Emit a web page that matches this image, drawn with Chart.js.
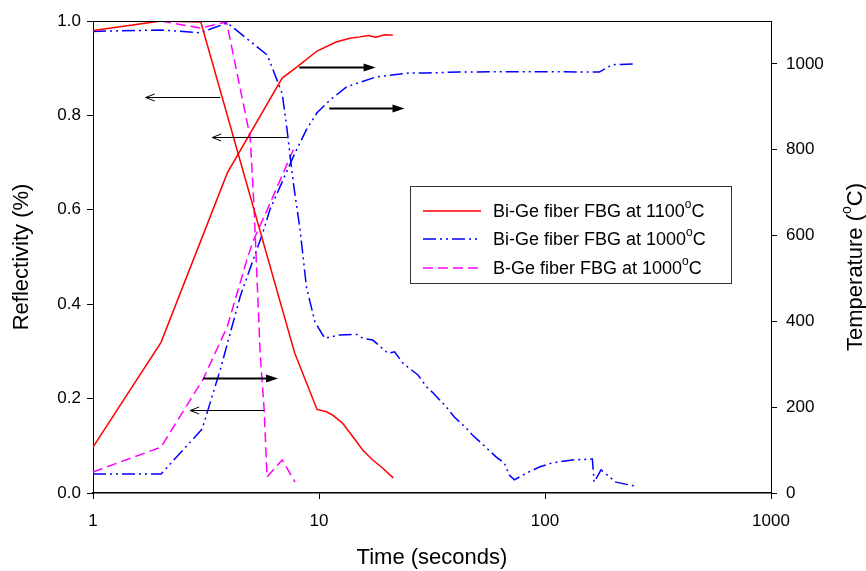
<!DOCTYPE html>
<html>
<head>
<meta charset="utf-8">
<script src="https://cdn.jsdelivr.net/npm/chart.js@4.4.1/dist/chart.umd.min.js"></script>
<style>
    body { margin: 0; background: #fff; }
    #wrap { width: 866px; height: 571px; }
</style>
</head>
<body>
<div id="wrap"><canvas id="chart-fbg" width="866" height="571"></canvas></div>
<script>
// Bi-Ge fiber FBG at 1100 C
const tRedRefl = [1, 2, 3, 7.8, 9.8, 10.8, 11.5, 12.7, 14.7, 15.6, 17.3, 19.1, 21.3];
const redRefl = [0.98, 1.0, 0.998, 0.297, 0.177, 0.172, 0.165, 0.148, 0.108, 0.091, 0.07, 0.053, 0.032];
const tRedTemp = [1, 2, 3.93, 6.87, 8.0, 9.8, 11.9, 13.7, 15.2, 16.5, 17.9, 19.5, 21.2];
const redTemp = [107, 351, 746, 967, 993, 1030, 1051, 1060, 1063, 1066, 1062, 1068, 1067];

// Bi-Ge fiber FBG at 1000 C
const tBlueRefl = [1, 2, 2.98, 3.93, 5.9, 6.87, 7.2, 7.7, 8.25, 8.8, 9.6, 10.6, 12.4, 14.7, 15.6, 17.3, 20.2, 21.6, 23.5, 27.4, 29.9, 32, 36.6, 39.7, 44.7, 47.7, 52.2, 60.9, 66, 69.5, 73.2, 82.6, 94.4, 108, 132, 162, 165, 177, 206, 248];
const blueRefl = [0.978, 0.981, 0.975, 0.996, 0.928, 0.847, 0.775, 0.657, 0.557, 0.436, 0.362, 0.328, 0.335, 0.336, 0.328, 0.324, 0.296, 0.299, 0.275, 0.25, 0.225, 0.212, 0.182, 0.161, 0.138, 0.123, 0.106, 0.076, 0.064, 0.038, 0.028, 0.042, 0.055, 0.064, 0.07, 0.072, 0.023, 0.049, 0.023, 0.015];
const tBlueTemp = [1, 2, 3.04, 3.66, 4.48, 5.66, 6.06, 7.7, 8.8, 9.8, 11.2, 13.3, 18, 25.3, 30, 41.8, 80, 174, 198, 247];
const blueTemp = [44, 44, 149, 288, 458, 609, 660, 784, 847, 886, 916, 947, 970, 979, 979, 981, 982, 981, 998, 1000];

// B-Ge fiber FBG at 1000 C
const tMagRefl = [2, 2.98, 3.9, 4.96, 5.16, 5.49, 5.72, 5.89, 6.87, 7.84];
const magRefl = [1.0, 0.985, 0.998, 0.754, 0.606, 0.297, 0.176, 0.034, 0.07, 0.023];
const tMagTemp = [1, 2, 3.07, 3.93, 4.8, 5.1, 5.9, 7.7];
const magTemp = [49, 107, 265, 388, 544, 586, 660, 800];

// Ticks
const timeTicks = [1, 10, 100, 1000];
const reflTicks = [0, 0.2, 0.4, 0.6, 0.8, 1.0];
const tempTicks = [0, 200, 400, 600, 800, 1000];

const legendLabels = ['Bi-Ge fiber FBG at 1100', 'Bi-Ge fiber FBG at 1000', 'B-Ge fiber FBG at 1000'];

// arrows: [x from, x to, reflectivity y]
const arrows = [
    [3.66, 1.71, 0.838],
    [7.23, 3.37, 0.754],
    [8.18, 17.8, 0.903],
    [11.1, 23.9, 0.816],
    [3.07, 6.59, 0.244],
    [5.71, 2.69, 0.176],
];

const FONT = '"Liberation Sans", Arial, sans-serif';
const styles = [
    { color: '#ff0000', dash: [] },
    { color: '#0000ff', dash: [13, 4, 2, 4, 2, 4] },
    { color: '#ff00ff', dash: [10, 5] },
];

function pts(xs, ys) {
    return xs.map((x, i) => ({ x: x, y: ys[i] }));
}

function ds(label, xs, ys, s, axis) {
    return {
        label: label,
        data: pts(xs, ys),
        yAxisID: axis,
        borderColor: s.color,
        borderDash: s.dash,
        borderWidth: 1.5,
        pointRadius: 0,
        tension: 0,
        fill: false,
    };
}

// dibujar texto con superindice "o"
function drawDegText(ctx, before, after, x, y, size, align) {
    ctx.font = size + 'px ' + FONT;
    const w1 = ctx.measureText(before).width;
    ctx.font = Math.round(size * 0.65) + 'px ' + FONT;
    const w2 = ctx.measureText('o').width;
    ctx.font = size + 'px ' + FONT;
    const w3 = ctx.measureText(after).width;
    let x0 = x;
    if (align === 'center') x0 = x - (w1 + w2 + w3) / 2;
    ctx.textAlign = 'left';
    ctx.textBaseline = 'middle';
    ctx.fillText(before, x0, y);
    ctx.font = Math.round(size * 0.65) + 'px ' + FONT;
    ctx.fillText('o', x0 + w1, y - size * 0.38);
    ctx.font = size + 'px ' + FONT;
    ctx.fillText(after, x0 + w1 + w2, y);
}

const extras = {
    id: 'extras',
    afterDatasetsDraw(chart) {
        const ctx = chart.ctx;
        const xs = chart.scales.x, ys = chart.scales.y;
        ctx.save();
        ctx.strokeStyle = '#000';
        ctx.fillStyle = '#000';
        arrows.forEach(a => {
            const x1 = xs.getPixelForValue(a[0]);
            const x2 = xs.getPixelForValue(a[1]);
            const y = Math.round(ys.getPixelForValue(a[2])) + 0.5;
            const dir = x2 > x1 ? 1 : -1;
            const bold = dir > 0;
            ctx.lineWidth = bold ? 2 : 1;
            ctx.setLineDash([]);
            ctx.beginPath();
            ctx.moveTo(x1, y);
            ctx.lineTo(x2 - dir * (bold ? 6 : 0), y);
            ctx.stroke();
            ctx.beginPath();
            if (bold) {
                ctx.moveTo(x2, y);
                ctx.lineTo(x2 - dir * 12, y - 4);
                ctx.lineTo(x2 - dir * 12, y + 4);
                ctx.closePath();
                ctx.fill();
            } else {
                ctx.moveTo(x2 + dir * -9, y - 3.5);
                ctx.lineTo(x2, y);
                ctx.lineTo(x2 + dir * -9, y + 3.5);
                ctx.stroke();
            }
        });
        ctx.restore();
    },
    afterDraw(chart) {
        const ctx = chart.ctx;
        const area = chart.chartArea;
        ctx.save();
        // marco superior
        ctx.strokeStyle = '#000';
        ctx.lineWidth = 1;
        ctx.beginPath();
        ctx.moveTo(area.left, area.top + 0.5);
        ctx.lineTo(area.right, area.top + 0.5);
        ctx.stroke();

        // leyenda
        const bx = 410, by = 186, bw = 321, bh = 97;
        ctx.fillStyle = '#fff';
        ctx.fillRect(bx, by, bw, bh);
        ctx.strokeStyle = '#333';
        ctx.strokeRect(bx + 0.5, by + 0.5, bw, bh);
        const rows = [211, 239, 268];
        styles.forEach((s, i) => {
            ctx.strokeStyle = s.color;
            ctx.lineWidth = 1.5;
            ctx.setLineDash(s.dash);
            ctx.beginPath();
            ctx.moveTo(423, rows[i]);
            ctx.lineTo(481, rows[i]);
            ctx.stroke();
            ctx.setLineDash([]);
            ctx.fillStyle = '#000';
            drawDegText(ctx, legendLabels[i], 'C', 493, rows[i] + 1, 18, 'left');
        });

        // titulo eje derecho
        ctx.save();
        ctx.translate(856, 267);
        ctx.rotate(-Math.PI / 2);
        ctx.fillStyle = '#000';
        drawDegText(ctx, 'Temperature (', 'C)', 0, 0, 22, 'center');
        ctx.restore();
        ctx.restore();
    }
};

const axisGrid = { drawOnChartArea: false, drawTicks: true, tickLength: 6, color: '#000' };
const tickFont = { family: FONT, size: 17 };

const chart = new Chart(document.getElementById('chart-fbg').getContext('2d'), {
    type: 'line',
    data: {
        datasets: [
            ds('Bi-Ge fiber FBG at 1100oC', tRedRefl, redRefl, styles[0], 'y'),
            ds('Bi-Ge fiber FBG at 1100oC temp', tRedTemp, redTemp, styles[0], 'y1'),
            ds('Bi-Ge fiber FBG at 1000oC', tBlueRefl, blueRefl, styles[1], 'y'),
            ds('Bi-Ge fiber FBG at 1000oC temp', tBlueTemp, blueTemp, styles[1], 'y1'),
            ds('B-Ge fiber FBG at 1000oC', tMagRefl, magRefl, styles[2], 'y'),
            ds('B-Ge fiber FBG at 1000oC temp', tMagTemp, magTemp, styles[2], 'y1'),
        ]
    },
    options: {
        responsive: false,
        animation: false,
        devicePixelRatio: 1,
        layout: { padding: { top: 21, left: 0, right: 0, bottom: 0 } },
        plugins: {
            legend: { display: false },
            tooltip: { enabled: false },
        },
        scales: {
            x: {
                type: 'logarithmic',
                position: 'bottom',
                min: 1,
                max: 1000,
                afterBuildTicks: (s) => { s.ticks = timeTicks.map(v => ({ value: v })); },
                afterFit: (s) => { s.height = 78; },
                ticks: {
                    color: '#000',
                    font: tickFont,
                    padding: 12,
                    maxRotation: 0,
                    autoSkip: false,
                    callback: (v) => String(v),
                },
                grid: axisGrid,
                border: { color: '#000', width: 1.5 },
                title: {
                    display: true,
                    text: 'Time (seconds)',
                    color: '#000',
                    font: { family: FONT, size: 22 },
                    padding: { top: 0, bottom: 0 },
                },
            },
            y: {
                type: 'linear',
                position: 'left',
                min: 0,
                max: 1,
                afterBuildTicks: (s) => { s.ticks = reflTicks.map(v => ({ value: v })); },
                afterFit: (s) => { s.width = 93; },
                ticks: {
                    color: '#000',
                    font: tickFont,
                    padding: 6,
                    callback: (v) => Number(v).toFixed(1),
                },
                grid: axisGrid,
                border: { color: '#000', width: 1 },
                title: {
                    display: true,
                    text: 'Reflectivity (%)',
                    color: '#000',
                    font: { family: FONT, size: 22 },
                    padding: { top: 9, bottom: 0 },
                },
            },
            y1: {
                type: 'linear',
                position: 'right',
                min: 0,
                max: 1100,
                afterBuildTicks: (s) => { s.ticks = tempTicks.map(v => ({ value: v })); },
                afterFit: (s) => { s.width = 95; },
                ticks: {
                    color: '#000',
                    font: tickFont,
                    padding: 9,
                    callback: (v) => String(v),
                },
                grid: axisGrid,
                border: { color: '#000', width: 1 },
            },
        }
    },
    plugins: [extras]
});
</script>
</body>
</html>
